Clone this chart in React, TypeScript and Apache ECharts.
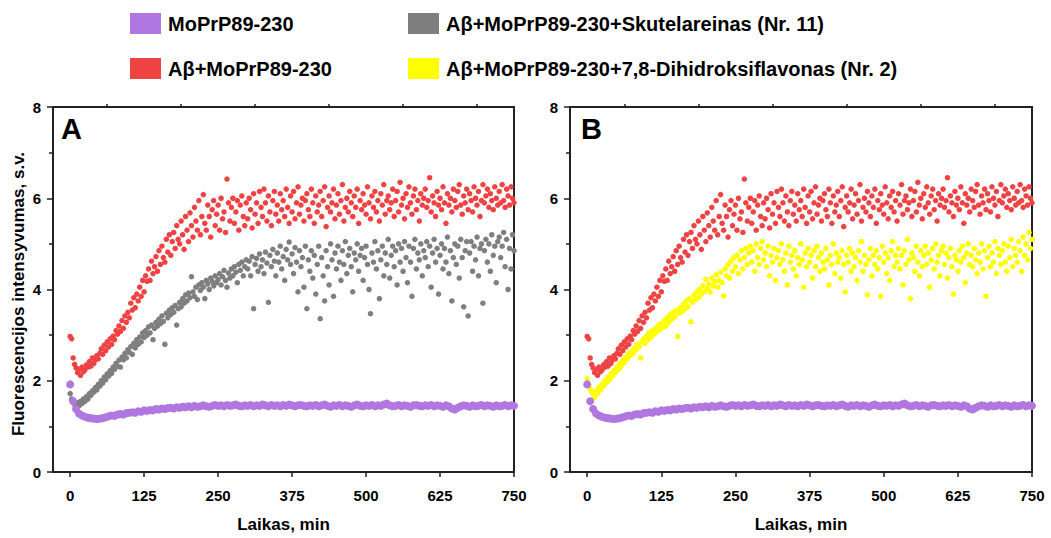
import React, { useEffect, useRef } from "react";
import * as echarts from "echarts";

// ---------- data ----------
const xTicks = [0, 125, 250, 375, 500, 625, 750];
const xMinorTicks = [62.5, 187.5, 312.5, 437.5, 562.5, 687.5];
const yTicks = [0, 2, 4, 6, 8];

const seriesNames = [
  "MoPrP89-230",
  "Aβ+MoPrP89-230",
  "Aβ+MoPrP89-230+Skutelareinas (Nr. 11)",
  "Aβ+MoPrP89-230+7,8-Dihidroksiflavonas (Nr. 2)",
];

// MoPrP89-230, one value every 5 min
const purpleStep = 5;
const purple = [
  1.92, 1.55, 1.38, 1.28, 1.24, 1.21, 1.19, 1.18, 1.17, 1.16,
  1.17, 1.18, 1.2, 1.22, 1.24, 1.23, 1.26, 1.27, 1.26, 1.29,
  1.3, 1.31, 1.3, 1.33, 1.32, 1.35, 1.34, 1.36, 1.35, 1.38,
  1.37, 1.39, 1.38, 1.4, 1.41, 1.39, 1.42, 1.41, 1.43, 1.42,
  1.44, 1.42, 1.45, 1.43, 1.44, 1.46, 1.44, 1.43, 1.45, 1.47,
  1.45, 1.46, 1.44, 1.47, 1.45, 1.46, 1.48, 1.45, 1.44, 1.46,
  1.45, 1.47, 1.44, 1.46, 1.45, 1.48, 1.46, 1.44, 1.47, 1.45,
  1.46, 1.44, 1.47, 1.45, 1.48, 1.46, 1.44, 1.46, 1.47, 1.45,
  1.44, 1.46, 1.45, 1.47, 1.44, 1.46, 1.48, 1.45, 1.43, 1.46,
  1.45, 1.47, 1.44, 1.46, 1.45, 1.43, 1.46, 1.48, 1.45, 1.44,
  1.46, 1.45, 1.47, 1.44, 1.46, 1.45, 1.48, 1.5, 1.46, 1.44,
  1.45, 1.47, 1.44, 1.46, 1.45, 1.43, 1.46, 1.47, 1.45, 1.44,
  1.46, 1.45, 1.47, 1.44, 1.46, 1.45, 1.43, 1.46, 1.44, 1.39,
  1.37, 1.41, 1.44, 1.46, 1.45, 1.43, 1.46, 1.44, 1.45, 1.47,
  1.44, 1.46, 1.45, 1.43, 1.46, 1.44, 1.45, 1.47, 1.44, 1.46,
  1.45,
];

// the other three series, one value every 2.5 min
const step = 2.5;
const red = [
  2.97, 2.92, 2.5, 2.36, 2.28, 2.18, 2.25, 2.12, 2.3, 2.2,
  2.24, 2.35, 2.3, 2.42, 2.32, 2.5, 2.38, 2.46, 2.55, 2.48,
  2.6, 2.7, 2.58, 2.78, 2.66, 2.85, 2.74, 2.92, 2.8, 2.98,
  2.9, 3.1, 3.02, 3.2, 3.08, 3.32, 3.15, 3.42, 3.28, 3.5,
  3.38, 3.7, 3.55, 3.82, 3.6, 3.9, 3.75, 4.05, 3.85, 4.2,
  3.95, 4.3, 4.18, 4.45, 4.2, 4.62, 4.35, 4.5, 4.72, 4.4,
  4.85, 4.55, 4.95, 4.7, 4.6, 5.1, 4.82, 5.2, 4.75, 5.05,
  5.25, 4.9, 5.4, 5.1, 5.0, 5.5, 5.2, 4.88, 5.6, 5.3,
  5.05, 5.68, 5.4, 5.15, 5.8, 5.5, 5.3, 5.95, 5.2, 5.6,
  6.08, 5.45, 5.3, 5.85, 5.6, 5.15, 5.75, 5.95, 5.4, 5.65,
  5.85, 5.3, 6.0, 5.55, 5.7, 5.25, 6.42, 5.9, 5.5, 5.8,
  6.0, 5.45, 5.7, 5.95, 5.3, 5.85, 6.05, 5.6, 5.4, 5.9,
  5.55, 6.0, 5.75, 5.35, 6.1, 5.65, 5.9, 5.45, 6.15, 5.8,
  5.6, 6.2, 5.9, 5.5, 6.05, 5.7, 5.4, 5.95, 6.15, 5.65,
  5.85, 5.5, 6.1, 5.75, 5.95, 5.6, 6.2, 5.8, 5.45, 6.05,
  5.7, 6.15, 5.55, 5.9, 6.25, 5.65, 5.85, 6.0, 5.5, 5.95,
  6.1, 5.75, 5.6, 6.2, 5.9, 5.45, 6.05, 5.7, 5.85, 6.15,
  5.6, 5.95, 6.25, 5.38, 5.8, 6.05, 5.7, 5.9, 6.2, 5.55,
  5.85, 6.1, 5.65, 5.95, 6.3, 5.5, 5.8, 6.0, 5.7, 6.15,
  5.9, 5.6, 6.05, 5.8, 6.2, 5.45, 5.95, 5.75, 6.1, 5.85,
  5.65, 6.25, 5.9, 5.55, 6.05, 5.8, 6.15, 5.7, 5.95, 5.5,
  6.1, 5.85, 6.3, 5.65, 5.95, 6.05, 5.75, 5.9, 6.2, 5.6,
  5.95, 6.15, 5.7, 6.35, 5.85, 6.0, 5.55, 6.1, 5.8, 6.25,
  5.9, 5.65, 6.05, 6.2, 5.75, 5.95, 5.5, 6.1, 5.85, 6.0,
  6.2, 5.8, 5.95, 6.45, 5.7, 6.05, 5.9, 5.6, 6.15, 5.85,
  6.0, 5.75, 6.25, 5.9, 5.45, 6.1, 5.85, 6.0, 5.7, 6.2,
  5.95, 5.8, 6.15, 6.3, 5.85, 5.65, 6.05, 5.9, 6.2, 5.75,
  6.1, 5.95, 5.7, 6.25, 6.0, 5.85, 6.15, 5.6, 5.95, 6.3,
  5.9, 6.05, 6.2, 5.8, 6.1, 5.95, 5.75, 6.25, 6.0, 5.85,
  6.15, 5.9, 6.3, 5.95, 5.8, 6.2, 6.05, 5.85, 6.25, 6.0,
  5.9,
];

const gray = [
  1.72, 1.6, 1.55, 1.48, 1.36, 1.52, 1.45, 1.55, 1.5, 1.6,
  1.55, 1.65, 1.6, 1.72, 1.68, 1.78, 1.75, 1.85, 1.8, 1.92,
  1.88, 2.0, 1.95, 2.08, 2.02, 2.15, 2.1, 2.22, 2.16, 2.3,
  2.25, 2.38, 2.32, 2.45, 2.3, 2.52, 2.46, 2.6, 2.5, 2.68,
  2.62, 2.75, 2.58, 2.82, 2.72, 2.9, 2.8, 2.96, 2.85, 3.05,
  2.95, 3.1, 3.0, 3.18, 3.05, 3.22, 2.9, 3.15, 3.28, 3.2,
  3.35, 3.25, 3.42, 3.3, 2.8, 3.48, 3.38, 3.55, 3.45, 3.6,
  3.5, 3.65, 3.22, 3.58, 3.72, 3.62, 3.8, 3.7, 3.88, 3.75,
  3.92, 3.82, 4.28, 3.95, 3.85, 4.05, 3.78, 4.1, 3.98, 4.15,
  4.05, 3.8, 4.2, 4.12, 4.0, 4.25, 4.18, 4.08, 4.3, 4.15,
  4.22, 4.35, 4.1, 4.28, 4.42, 4.2, 4.05, 4.36, 4.25, 4.45,
  4.3, 4.5, 4.38, 4.15, 4.55, 4.42, 4.6, 4.3, 4.5, 4.65,
  4.45, 4.62, 4.3, 4.72, 3.58, 4.55, 4.68, 4.4, 4.78, 4.5,
  4.65, 4.35, 4.82, 4.58, 3.72, 4.75, 4.5, 4.88, 4.62, 4.3,
  4.8, 4.6, 4.95, 4.45, 4.72, 4.2, 4.88, 4.65, 5.04, 4.55,
  4.78, 4.35, 4.92, 4.6, 3.95, 4.85, 4.5, 4.7, 4.05, 4.95,
  3.58, 4.65, 4.4, 4.85, 4.25, 4.75, 3.9, 4.55, 4.95, 3.36,
  4.7, 4.3, 3.75, 4.85, 4.5, 4.1, 5.0, 4.65, 3.85, 4.8,
  4.45, 4.95, 4.6, 4.2, 4.85, 4.55, 5.05, 4.35, 4.75, 4.9,
  4.5, 3.95, 4.8, 4.65, 5.0, 4.4, 4.75, 4.9, 4.2, 4.7,
  4.95, 4.55, 4.0, 3.47, 4.8, 4.6, 5.05, 4.45, 4.85, 3.8,
  4.65, 4.95, 4.3, 4.8, 4.55, 5.1, 4.25, 4.75, 4.95, 4.5,
  4.85, 4.1, 5.0, 4.6, 4.9, 4.4, 5.05, 4.7, 4.15, 4.95,
  4.6, 3.85, 4.9, 5.1, 4.45, 4.8, 4.65, 5.0, 4.3, 4.85,
  4.7, 5.05, 4.5, 4.95, 4.05, 4.8, 5.1, 4.6, 4.9, 3.9,
  4.75, 5.0, 4.45, 4.9, 4.6, 5.15, 4.35, 4.85, 3.75, 4.7,
  5.0, 4.55, 4.95, 4.25, 5.1, 4.7, 3.62, 4.85, 5.05, 3.42,
  4.8, 5.05, 4.4, 4.95, 4.65, 5.15, 4.3, 4.9, 5.0, 3.7,
  4.85, 5.1, 4.6, 5.0, 4.4, 5.2, 4.75, 4.95, 4.15, 5.05,
  5.15, 4.7, 4.95, 5.25, 4.5, 5.1, 4.0, 4.9, 4.45, 5.2,
  4.85,
];

const yellow = [
  2.04, 1.9, 1.82, 1.76, 1.7, 1.64, 1.78, 1.72, 1.86, 1.8,
  1.92, 1.88, 2.0, 1.96, 2.08, 2.02, 2.15, 2.1, 2.22, 2.18,
  2.3, 2.25, 2.38, 2.32, 2.45, 2.4, 2.52, 2.48, 2.6, 2.55,
  2.65, 2.6, 2.72, 2.68, 2.8, 2.75, 2.5, 2.85, 2.92, 2.82,
  2.98, 2.9, 3.05, 2.95, 3.1, 3.02, 3.15, 3.08, 3.22, 3.12,
  3.25, 3.18, 3.32, 3.2, 3.38, 3.28, 3.45, 3.35, 3.5, 3.4,
  3.55, 2.97, 3.48, 3.6, 3.52, 3.68, 3.58, 3.75, 3.62, 3.8,
  3.29, 3.72, 3.88, 3.78, 3.95, 3.82, 4.0, 3.9, 4.08, 3.95,
  4.22, 4.02, 4.12, 3.95, 4.25, 4.08, 4.18, 4.32, 4.05, 4.2,
  4.38, 4.15, 3.86, 4.45, 4.3, 4.55, 4.25, 4.62, 4.4, 4.7,
  4.5, 4.75, 4.35, 4.65, 4.85, 4.45, 4.7, 4.9, 4.55, 4.8,
  4.95, 4.6, 4.85, 4.4, 5.0, 4.7, 4.55, 4.9, 5.05, 4.65,
  4.8, 4.5, 4.95, 4.3, 4.75, 4.6, 4.9, 4.2, 4.7, 4.85,
  4.55, 5.0, 4.65, 4.4, 4.8, 4.1, 4.95, 4.6, 4.75, 4.45,
  4.85, 4.3, 4.7, 4.55, 5.0, 4.65, 4.05, 4.8, 4.5, 4.9,
  4.6, 4.75, 4.25, 4.85, 4.5, 4.95, 4.7, 4.4, 4.8, 4.6,
  4.45, 4.9, 4.65, 4.1, 4.75, 4.55, 5.0, 4.35, 4.8, 4.6,
  4.7, 4.25, 4.85, 4.55, 3.95, 4.75, 4.6, 4.9, 4.4, 4.8,
  4.5, 4.7, 4.2, 4.85, 4.6, 5.05, 4.4, 4.75, 4.55, 3.88,
  4.65, 4.9, 4.3, 4.75, 4.55, 4.85, 4.45, 4.7, 3.85, 4.95,
  4.6, 4.8, 4.35, 4.7, 4.2, 4.85, 5.05, 4.5, 4.75, 4.6,
  4.9, 4.45, 4.75, 4.1, 4.85, 4.55, 5.1, 4.65, 3.8, 4.8,
  4.7, 4.4, 4.95, 4.6, 4.3, 4.85, 4.5, 4.75, 4.95, 4.55,
  4.8, 4.05, 4.65, 4.9, 4.45, 5.0, 4.6, 4.75, 4.3, 4.85,
  4.95, 4.55, 4.8, 4.25, 4.7, 4.9, 4.5, 3.9, 4.75, 4.65,
  4.4, 4.85, 4.6, 4.95, 4.7, 4.15, 4.8, 5.0, 4.55, 4.75,
  4.5, 4.9, 4.65, 4.35, 4.8, 4.6, 5.0, 4.45, 4.85, 3.85,
  4.7, 4.95, 4.5, 4.8, 4.6, 5.05, 4.35, 4.9, 4.75, 4.55,
  4.85, 5.0, 4.6, 4.4, 4.95, 4.7, 5.1, 4.5, 4.9, 4.75,
  4.6, 5.05, 4.85, 4.4, 5.15, 4.75, 5.0, 4.65, 5.25, 4.9,
  5.1,
];

const colors = ["#B077E0", "#EF4343", "#7F7F7F", "#FFFF00"];
const FONT = 'Arial, "Liberation Sans", sans-serif';
const AXIS_COLOR = "#222";

function toPoints(values: number[], dt: number) {
  return values.map((v, i) => [i * dt, v]);
}

export default function App() {
  const ref = useRef<HTMLDivElement>(null);

  useEffect(() => {
    document.body.style.margin = "0";
    if (!ref.current) return;
    const chart = echarts.init(ref.current, null, { renderer: "svg" });

    const grids = [
      { left: 53, top: 107, width: 461, height: 373 },
      { left: 570, top: 107, width: 462, height: 373 },
    ].map((g) => ({
      ...g,
      show: true,
      borderColor: AXIS_COLOR,
      borderWidth: 2,
      backgroundColor: "transparent",
    }));

    const mainX = (gridIndex: number) => ({
      type: "value",
      gridIndex,
      min: -29,
      max: 750,
      name: "Laikas, min",
      nameLocation: "middle",
      nameGap: 44,
      nameTextStyle: { fontFamily: FONT, fontWeight: "bold", fontSize: 17, color: "#000" },
      axisLine: { show: true, onZero: false, lineStyle: { color: AXIS_COLOR, width: 2 } },
      axisTick: { show: true, length: 5, customValues: xTicks, lineStyle: { color: AXIS_COLOR, width: 1.5 } },
      axisLabel: {
        show: true,
        customValues: xTicks,
        margin: 16,
        fontFamily: FONT,
        fontWeight: "bold",
        fontSize: 15,
        color: "#000",
      },
      splitLine: { show: false },
    });
    const minorX = (gridIndex: number) => ({
      type: "value",
      gridIndex,
      min: -29,
      max: 750,
      axisLine: { show: false, onZero: false },
      axisTick: { show: true, length: 3, customValues: xMinorTicks, lineStyle: { color: AXIS_COLOR, width: 1.5 } },
      axisLabel: { show: false },
      splitLine: { show: false },
    });
    const yAx = (gridIndex: number) => ({
      type: "value",
      gridIndex,
      min: 0,
      max: 8,
      interval: 2,
      axisLine: { show: true, onZero: false, lineStyle: { color: AXIS_COLOR, width: 2 } },
      axisTick: { show: true, length: 6, lineStyle: { color: AXIS_COLOR, width: 1.5 } },
      minorTick: { show: true, splitNumber: 2, length: 4, lineStyle: { color: AXIS_COLOR, width: 1.5 } },
      axisLabel: {
        margin: 12,
        fontFamily: FONT,
        fontWeight: "bold",
        fontSize: 15,
        color: "#000",
        formatter: (v: number) => (yTicks.includes(v) ? String(v) : ""),
      },
      splitLine: { show: false },
    });

    const scatter = (name: string, values: number[], dt: number, color: string, xi: number, yi: number, size: number, z: number) => ({
      type: "scatter",
      name,
      xAxisIndex: xi,
      yAxisIndex: yi,
      data: toPoints(values, dt),
      symbol: "circle",
      symbolSize: size,
      itemStyle: { color, opacity: 1 },
      z,
      silent: true,
    });

    const legendCommon = {
      orient: "vertical",
      top: 13,
      padding: 0,
      itemWidth: 31,
      itemHeight: 21,
      itemGap: 24,
      icon: "rect",
      selectedMode: false,
      textStyle: { fontFamily: FONT, fontWeight: "bold", fontSize: 20, color: "#000", padding: [0, 0, 0, 2] },
    };

    chart.setOption({
      animation: false,
      color: colors,
      grid: grids,
      xAxis: [mainX(0), minorX(0), mainX(1), minorX(1)],
      yAxis: [yAx(0), yAx(1)],
      legend: [
        { ...legendCommon, left: 130, data: [seriesNames[0], seriesNames[1]] },
        { ...legendCommon, left: 408, data: [seriesNames[2], seriesNames[3]] },
      ],
      series: [
        scatter(seriesNames[2], gray, step, colors[2], 0, 0, 5.5, 2),
        scatter(seriesNames[1], red, step, colors[1], 0, 0, 5.5, 3),
        scatter(seriesNames[0], purple, purpleStep, colors[0], 0, 0, 8, 4),
        scatter(seriesNames[3], yellow, step, colors[3], 2, 1, 5.5, 2),
        scatter(seriesNames[1], red, step, colors[1], 2, 1, 5.5, 3),
        scatter(seriesNames[0], purple, purpleStep, colors[0], 2, 1, 8, 4),
      ],
      graphic: [
        {
          type: "text",
          x: 18,
          y: 294,
          rotation: Math.PI / 2,
          style: {
            text: "Fluorescencijos intensyvumas, s.v.",
            font: `bold 17px ${FONT}`,
            fill: "#000",
            align: "center",
            verticalAlign: "middle",
          },
        },
        {
          type: "text",
          x: 61,
          y: 129,
          style: { text: "A", font: `bold 29px ${FONT}`, fill: "#000", align: "left", verticalAlign: "middle" },
        },
        {
          type: "text",
          x: 581,
          y: 129,
          style: { text: "B", font: `bold 29px ${FONT}`, fill: "#000", align: "left", verticalAlign: "middle" },
        },
      ],
    });

    return () => chart.dispose();
  }, []);

  return <div ref={ref} style={{ width: 1051, height: 538 }} />;
}
